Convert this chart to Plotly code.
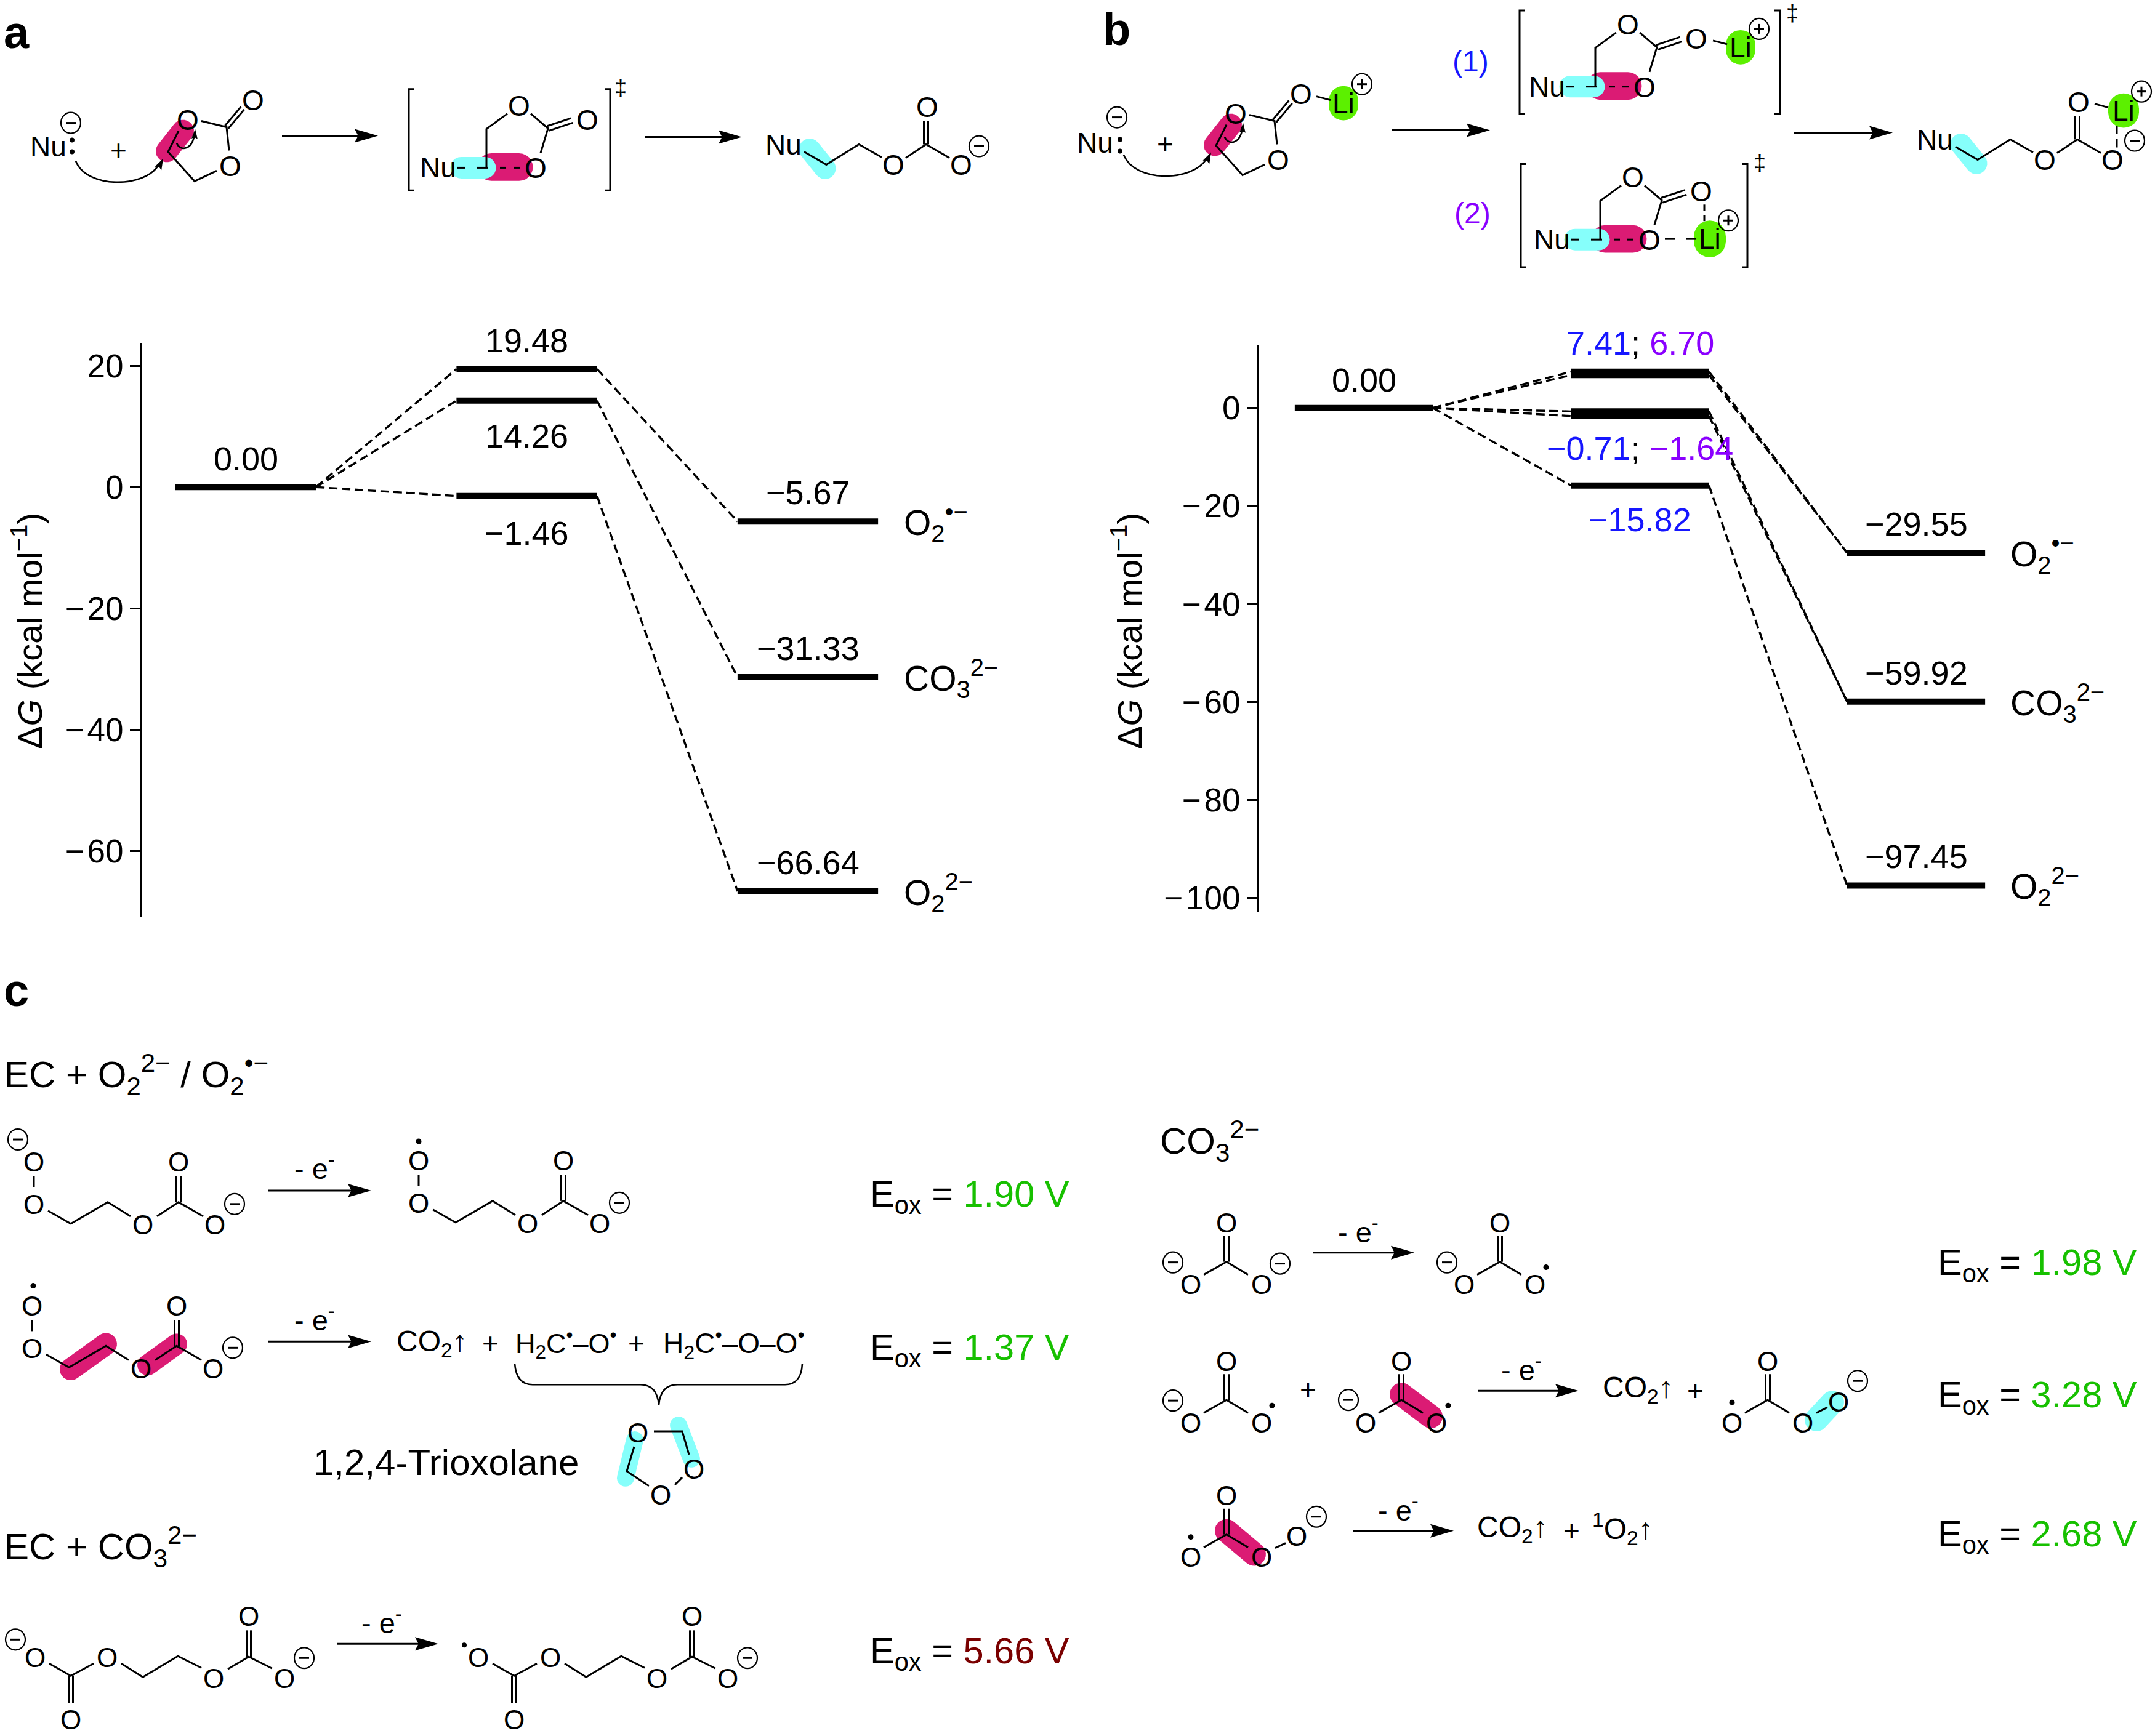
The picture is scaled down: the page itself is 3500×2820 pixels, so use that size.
import math
import plotly.graph_objects as go

W, H = 3500, 2820
FONT = "Liberation Sans"
CRIMSON = "#DB1B74"
CYAN = "#86FFFB"
LIME = "#5CF000"
BLUE = "#1616FF"
PURPLE = "#8A00FF"
GREEN = "#17C000"
DARKRED = "#7A0000"

# ---------- energy data ----------
a_start = 0.00
a_ts = [19.48, 14.26, -1.46]
a_prod = [-5.67, -31.33, -66.64]
a_ticks = [20, 0, -20, -40, -60]
b_start = 0.00
b_ts1 = [7.41, -0.71, -15.82]
b_ts2 = [6.70, -1.64, None]
b_prod = [-29.55, -59.92, -97.45]
b_ticks = [0, -20, -40, -60, -80, -100]
species = ["O<sub>2</sub><sup>•−</sup>", "CO<sub>3</sub><sup>2−</sup>", "O<sub>2</sub><sup>2−</sup>"]
eox_left = ["1.90 V", "1.37 V", "5.66 V"]
eox_right = ["1.98 V", "3.28 V", "2.68 V"]

fig = go.Figure()
shapes_below, shapes_above, annos = [], [], []
bx, by = [], []          # bond segments


def seg(*pts):
    for p in pts:
        bx.append(p[0]); by.append(p[1])
    bx.append(None); by.append(None)


def txt(x, y, s, size=46, color="black", anchor="center", shift=0):
    annos.append(dict(x=x, y=y, xref="x3", yref="y3",
                      text=s, showarrow=False, xanchor=anchor, yanchor="middle",
                      font=dict(family=FONT, size=size, color=color), borderpad=0, yshift=shift))


def capsule(x1, y1, x2, y2, w, color):
    a = math.atan2(y2 - y1, x2 - x1)
    r = w / 2
    pts = []
    for i in range(13):
        t = a + math.pi / 2 + math.pi * i / 12
        pts.append((x1 + r * math.cos(t), y1 + r * math.sin(t)))
    for i in range(13):
        t = a - math.pi / 2 + math.pi * i / 12
        pts.append((x2 + r * math.cos(t), y2 + r * math.sin(t)))
    path = "M" + " L".join(f"{p[0]:.1f} {p[1]:.1f}" for p in pts) + " Z"
    shapes_below.append(dict(type="path", path=path, xref="x3", yref="y3", fillcolor=color, line=dict(width=0), layer="below"))


def head(x, y, ang, L=38, hw=11):
    ca, sa = math.cos(ang), math.sin(ang)
    bxx, byy = x - L * ca, y - L * sa
    nx, ny = x - L * 0.85 * ca, y - L * 0.85 * sa
    path = (f"M{x:.1f} {y:.1f} L{bxx - hw * sa:.1f} {byy + hw * ca:.1f} L{nx:.1f} {ny:.1f} "
            f"L{bxx + hw * sa:.1f} {byy - hw * ca:.1f} Z")
    shapes_above.append(dict(type="path", path=path, xref="x3", yref="y3", fillcolor="black", line=dict(width=0)))


def arrow(x1, x2, y):
    seg((x1, y), (x2 - 30, y))
    head(x2, y, 0)


def curve(path, width=2.6):
    shapes_above.append(dict(type="path", path=path, xref="x3", yref="y3", line=dict(color="black", width=width)))


def dot(x, y, r=4.5):
    shapes_above.append(dict(type="circle", xref="x3", yref="y3", x0=x - r, x1=x + r, y0=y - r, y1=y + r,
                             fillcolor="black", line=dict(width=0)))


def charge(x, y, sign="-"):
    r = 16
    shapes_above.append(dict(type="circle", xref="x3", yref="y3", x0=x - r, x1=x + r, y0=y - r - 1, y1=y + r + 1,
                             line=dict(color="black", width=2.2)))
    seg((x - 8, y), (x + 8, y))
    if sign == "+":
        seg((x, y - 8), (x, y + 8))


def double(p, q, off=4.5):
    a = math.atan2(q[1] - p[1], q[0] - p[0])
    dx, dy = -off * math.sin(a), off * math.cos(a)
    seg((p[0] + dx, p[1] + dy), (q[0] + dx, q[1] + dy))
    seg((p[0] - dx, p[1] - dy), (q[0] - dx, q[1] - dy))


def O(x, y, size=46):
    txt(x, y, "O", size, shift=-2)


def minus_e(x, y):
    txt(x, y, "- e<sup>-</sup>", 47)


def eox(x, y, val, color):
    txt(x, y + 9, f'E<sub>ox</sub> = <span style="color:{color}">{val}</span>', 59.5, anchor="left")


def bracket(x0, x1, y0, y1, ddx, ddy):
    seg((x0 + 9, y0), (x0, y0), (x0, y1), (x0 + 9, y1))
    seg((x1 - 9, y0), (x1, y0), (x1, y1), (x1 - 9, y1))
    txt(ddx, ddy, "‡", 36)


# ---------- scheme a / b building blocks ----------
def ec(dx, dy):
    capsule(297 + dx, 213 + dy, 271 + dx, 246 + dy, 36, CRIMSON)
    O(305 + dx, 193 + dy)
    O(411 + dx, 161 + dy)
    O(374 + dx, 269 + dy)
    seg((290 + dx, 213 + dy), (273 + dx, 247 + dy), (316 + dx, 295 + dy), (352 + dx, 278 + dy))
    seg((327 + dx, 197 + dy), (368 + dx, 207 + dy), (372 + dx, 245 + dy))
    double((368 + dx, 207 + dy), (394 + dx, 176 + dy), 3.5)
    curve(f"M{123 + dx} {262 + dy} C{140 + dx} {307 + dy} {235 + dx} {307 + dy} {258 + dx} {268 + dy}")
    head(265 + dx, 258 + dy, -1.1, 18, 6)
    curve(f"M{287 + dx} {233 + dy} C{292 + dx} {246 + dy} {312 + dx} {246 + dy} {316 + dx} {218 + dy}")
    head(317 + dx, 210 + dy, -1.5, 16, 5)


def ts(dx, dy):
    capsule(798 + dx, 272 + dy, 843 + dx, 272 + dy, 45, CRIMSON)
    capsule(749 + dx, 273 + dy, 788 + dx, 273 + dy, 35, CYAN)
    txt(711 + dx, 273 + dy, "Nu", 46)
    O(843 + dx, 170 + dy)
    O(954 + dx, 193 + dy)
    O(870 + dx, 272 + dy)
    seg((824 + dx, 185 + dy), (790 + dx, 210 + dy), (790 + dx, 273 + dy))
    seg((862 + dx, 185 + dy), (890 + dx, 209 + dy), (878 + dx, 249 + dy))
    double((890 + dx, 209 + dy), (929 + dx, 196 + dy), 4)
    for xs, ln in ((742, 14), (775, 18), (812, 10), (834, 10)):
        seg((xs + dx, 273 + dy), (xs + ln + dx, 273 + dy))


def product(dx, dy):
    capsule(1315 + dx, 243 + dy, 1340 + dx, 274 + dy, 35, CYAN)
    txt(1272 + dx, 235 + dy, "Nu", 46)
    seg((1306 + dx, 247 + dy), (1342 + dx, 268 + dy), (1395 + dx, 235 + dy), (1432 + dx, 256 + dy))
    seg((1471 + dx, 257 + dy), (1504 + dx, 235 + dy), (1542 + dx, 257 + dy))
    double((1504 + dx, 235 + dy), (1504 + dx, 197 + dy), 3.5)
    O(1451 + dx, 267 + dy)
    O(1561 + dx, 267 + dy)
    O(1506 + dx, 172 + dy)


# ---- a scheme
txt(5, 53, "<b>a</b>", 74, anchor="left")
txt(78, 239, "Nu", 46)
dot(117, 228, 4); dot(117, 247, 4)
charge(115, 200)
txt(192, 245, "+", 46)
ec(0, 0)
arrow(458, 614, 221)
bracket(664, 991, 145, 310, 1008, 143)
ts(0, 0)
arrow(1048, 1205, 223)
product(0, 0)
charge(1590, 238)

# ---- b scheme
txt(1790, 48, "<b>b</b>", 74, anchor="left")
txt(1778, 232, "Nu", 46)
dot(1819, 227, 4); dot(1819, 246, 4)
charge(1814, 191)
txt(1892, 234, "+", 46)
ec(1702, -10)
capsule(2182, 164, 2182, 172, 48, LIME)
txt(2182, 168, "Li", 46)
charge(2212, 137, "+")
seg((2138, 157), (2161, 163))
arrow(2260, 2420, 212)
txt(2388, 100, "(1)", 48, BLUE)
txt(2391, 347, "(2)", 48, PURPLE)
bracket(2468, 2891, 17, 186, 2911, 22)
ts(1801, -132)
capsule(2827, 73, 2827, 81, 48, LIME)
txt(2827, 77, "Li", 46)
charge(2857, 47, "+")
seg((2782, 66), (2805, 72))
bracket(2470, 2838, 267, 435, 2858, 265)
ts(1809, 117)
capsule(2777, 385, 2777, 393, 52, LIME)
txt(2777, 389, "Li", 46)
charge(2807, 359, "+")
seg((2768, 333), (2768, 343)); seg((2768, 350), (2768, 360))
seg((2704, 389), (2720, 389)); seg((2738, 389), (2754, 389))
arrow(2913, 3074, 216)
product(1870, -8)
capsule(3449, 177, 3449, 183, 50, LIME)
txt(3449, 180, "Li", 46)
charge(3478, 149, "+")
seg((3402, 169), (3424, 175))
seg((3438, 205), (3438, 218)); seg((3438, 226), (3438, 240))
charge(3467, 229)


# ---------- panel c ----------
txt(5, 1612, "<b>c</b>", 74, anchor="left")
txt(6, 1749, "EC + O<sub>2</sub><sup>2−</sup> / O<sub>2</sub><sup>•−</sup>", 60, anchor="left")
txt(6, 2518, "EC + CO<sub>3</sub><sup>2−</sup>", 60, anchor="left")
txt(1883, 1857, "CO<sub>3</sub><sup>2−</sup>", 60, anchor="left")


def perox(dx, dy):
    O(55 + dx, 1890 + dy, 44); O(55 + dx, 1959 + dy, 44); O(232 + dx, 1992 + dy, 44)
    O(349 + dx, 1992 + dy, 44); O(290 + dx, 1890 + dy, 44)
    seg((55 + dx, 1915 + dy), (55 + dx, 1933 + dy))
    seg((78 + dx, 1971 + dy), (115 + dx, 1992 + dy), (175 + dx, 1957 + dy), (212 + dx, 1980 + dy))
    seg((255 + dx, 1980 + dy), (290 + dx, 1957 + dy), (330 + dx, 1980 + dy))
    double((290 + dx, 1957 + dy), (290 + dx, 1915 + dy), 3.5)


perox(0, 0)
charge(29, 1855); charge(381, 1960)
arrow(436, 603, 1938)
minus_e(511, 1899)
perox(625, -2)
dot(680, 1858); charge(1006, 1958)
eox(1412, 1939, eox_left[0], GREEN)

capsule(115, 2229, 172, 2188, 36, CRIMSON)
capsule(287, 2188, 240, 2222, 34, CRIMSON)
perox(-3, 234)
dot(54, 2093); charge(378, 2194)
arrow(436, 603, 2184)
minus_e(511, 2146)
txt(643, 2187, "CO<sub>2</sub>↑", 48, anchor="left")
txt(796, 2187, "+", 46)
txt(836, 2187, "H<sub>2</sub>C<sup>•</sup>–O<sup>•</sup>", 45, anchor="left")
txt(1033, 2187, "+", 46)
txt(1076, 2187, "H<sub>2</sub>C<sup>•</sup>–O–O<sup>•</sup>", 46, anchor="left")
curve("M836 2220 C838 2245 850 2254 865 2254 L1040 2254 C1058 2254 1068 2265 1070 2287 "
      "C1072 2265 1082 2254 1100 2254 L1275 2254 C1290 2254 1302 2245 1303 2220")
eox(1412, 2188, eox_left[1], GREEN)
txt(508, 2381, "1,2,4-Trioxolane", 60, anchor="left")
capsule(1102, 2320, 1123, 2375, 28, CYAN)
capsule(1031, 2344, 1016, 2406, 28, CYAN)
O(1036, 2330, 44); O(1127, 2390, 44); O(1073, 2432, 44)
seg((1062, 2330), (1108, 2330), (1119, 2368))
seg((1108, 2405), (1096, 2417))
seg((1054, 2419), (1018, 2395), (1030, 2355))


def dicarb(dx):
    for p in [(57, 2696), (174, 2696), (347, 2730), (462, 2730), (404, 2629), (115, 2797)]:
        O(p[0] + dx, p[1], 44)
    seg((80 + dx, 2708), (115 + dx, 2728), (152 + dx, 2708))
    seg((197 + dx, 2708), (232 + dx, 2730), (289 + dx, 2696), (327 + dx, 2715))
    seg((370 + dx, 2717), (404 + dx, 2697), (442 + dx, 2716))
    double((404 + dx, 2697), (404 + dx, 2654), 3.5)
    double((115 + dx, 2728), (115 + dx, 2772), 3.5)


dicarb(0)
charge(25, 2669); charge(494, 2699)
arrow(548, 712, 2676)
minus_e(620, 2639)
dicarb(720)
dot(754, 2678, 4); charge(1214, 2699)
eox(1412, 2682, eox_left[2], DARKRED)


def carbonate(dx, dy):
    O(1992 + dx, 1989 + dy, 44); O(1934 + dx, 2089 + dy, 44); O(2049 + dx, 2089 + dy, 44)
    seg((1955 + dx, 2075 + dy), (1992 + dx, 2054 + dy), (2027 + dx, 2075 + dy))
    double((1992 + dx, 2054 + dy), (1992 + dx, 2012 + dy), 3.5)


carbonate(0, 0)
charge(1905, 2055); charge(2079, 2057)
arrow(2132, 2297, 2039)
minus_e(2206, 2002)
carbonate(444, 0)
charge(2350, 2055); dot(2511, 2063)
eox(3146, 2050, eox_right[0], GREEN)

carbonate(0, 225)
charge(1905, 2280); dot(2066, 2288)
txt(2124, 2262, "+", 46)
capsule(2276, 2270, 2324, 2306, 38, CRIMSON)
carbonate(284, 225)
charge(2190, 2279); dot(2352, 2288)
arrow(2400, 2564, 2264)
minus_e(2471, 2227)
txt(2602, 2262, "CO<sub>2</sub>↑", 48, anchor="left")
txt(2753, 2264, "+", 46)
capsule(2950, 2311, 2976, 2283, 38, CYAN)
carbonate(879, 225)
O(2986, 2280, 44)
seg((2950, 2300), (2968, 2291))
dot(2813, 2283); charge(3017, 2248)
eox(3146, 2265, eox_right[1], GREEN)

capsule(1992, 2492, 2037, 2530, 38, CRIMSON)
carbonate(0, 444)
O(2106, 2499, 44)
seg((2071, 2520), (2088, 2512))
dot(1934, 2502); charge(2138, 2469)
arrow(2197, 2361, 2492)
minus_e(2271, 2455)
txt(2398, 2489, "CO<sub>2</sub>↑", 48, anchor="left")
txt(2552, 2491, "+", 46)
txt(2585, 2489, "<sup>1</sup>O<sub>2</sub>↑", 48, anchor="left")
eox(3146, 2492, eox_right[2], GREEN)

fig.add_trace(go.Scatter(x=bx, y=by, xaxis="x3", yaxis="y3", mode="lines", hoverinfo="skip",
                         line=dict(color="black", width=3), showlegend=False))

# ---------- energy diagrams ----------
HALF = 0.25
BAR_W = 10
DASH = "14px,7px"


def level(ax, ay, step, v, width):
    fig.add_trace(go.Scatter(x=[step - HALF, step + HALF], y=[v, v], xaxis=ax, yaxis=ay, mode="lines",
                             line=dict(color="black", width=width), showlegend=False, hoverinfo="skip"))


def link(ax, ay, s0, v0, s1, v1):
    fig.add_trace(go.Scatter(x=[s0 + HALF, s1 - HALF], y=[v0, v1], xaxis=ax, yaxis=ay, mode="lines",
                             line=dict(color="black", width=3.4, dash=DASH), showlegend=False, hoverinfo="skip"))


for ts_v, pr_v in zip(a_ts, a_prod):
    link("x", "y", 0, a_start, 1, ts_v)
    link("x", "y", 1, ts_v, 2, pr_v)
    level("x", "y", 1, ts_v, BAR_W)
    level("x", "y", 2, pr_v, BAR_W)
level("x", "y", 0, a_start, BAR_W)

for v1, v2, pr_v in zip(b_ts1, b_ts2, b_prod):
    for v in (v1, v2):
        if v is not None:
            link("x2", "y2", 0, b_start, 1, v)
            link("x2", "y2", 1, v, 2, pr_v)
            level("x2", "y2", 1, v, BAR_W)
    level("x2", "y2", 2, pr_v, BAR_W)
level("x2", "y2", 0, b_start, BAR_W)


def lab(ax, ay, x, y, s, shift, size=54, color="black", anchor="center"):
    annos.append(dict(x=x, y=y, xref=ax, yref=ay, text=s, showarrow=False, xanchor=anchor, yanchor="middle",
                      yshift=shift, font=dict(family=FONT, size=size, color=color), borderpad=0))


def fmt(v):
    return f"{v:.2f}".replace("-", "−")


SPECIES_GAP = 0.09
lab("x", "y", 0, a_start, fmt(a_start), 46)
for v, sh in zip(a_ts, [46, -57, -60]):
    lab("x", "y", 1, v, fmt(v), sh)
for v, s in zip(a_prod, species):
    lab("x", "y", 2, v, fmt(v), 47)
    lab("x", "y", 2 + HALF + SPECIES_GAP, v, s, -2, size=57, anchor="left")

lab("x2", "y2", 0, b_start, fmt(b_start), 46)
lab("x2", "y2", 1, b_ts1[0],
    f'<span style="color:{BLUE}">{fmt(b_ts1[0])}</span>; <span style="color:{PURPLE}">{fmt(b_ts2[0])}</span>', 47)
lab("x2", "y2", 1, b_ts1[1],
    f'<span style="color:{BLUE}">{fmt(b_ts1[1])}</span>; <span style="color:{PURPLE}">{fmt(b_ts2[1])}</span>', -60)
lab("x2", "y2", 1, b_ts1[2], fmt(b_ts1[2]), -55, color=BLUE)
for v, s in zip(b_prod, species):
    lab("x2", "y2", 2, v, fmt(v), 47)
    lab("x2", "y2", 2 + HALF + SPECIES_GAP, v, s, -2, size=57, anchor="left")

ylabel = "Δ<i>G</i> (kcal mol<sup>−1</sup>)"
annos.append(dict(x=45, y=1027, xref="x3", yref="y3", text=ylabel, textangle=-90, showarrow=False,
                  font=dict(family=FONT, size=56, color="black")))
annos.append(dict(x=1831, y=1027, xref="x3", yref="y3", text=ylabel, textangle=-90, showarrow=False,
                  font=dict(family=FONT, size=56, color="black")))


def yaxis_cfg(domain, rng, ticks, anchor):
    return dict(domain=domain, range=rng, tickvals=ticks,
                ticktext=[str(t).replace("-", "−\u200a") for t in ticks],
                showline=True, linecolor="black", linewidth=3, ticks="outside", ticklen=17, tickwidth=3,
                tickcolor="black", showgrid=False, zeroline=False, anchor=anchor,
                tickfont=dict(family=FONT, size=53, color="black"))


def px_x(p):
    return p / W


def px_y(p):
    return 1 - p / H


# panel a: step centres 399, 856.5, 1312 px ; panel b: 2215, 2664, 3112 px
xa = dict(domain=[px_x(231), px_x(1700)], range=[(231 - 399) / 456.5, (1700 - 399) / 456.5], visible=False, anchor="y")
xb = dict(domain=[px_x(2045), px_x(3490)], range=[(2045 - 2215) / 448.5, (3490 - 2215) / 448.5], visible=False, anchor="y2")

fig.update_layout(
    width=W, height=H, margin=dict(l=0, r=0, t=0, b=0), paper_bgcolor="white", plot_bgcolor="rgba(0,0,0,0)",
    showlegend=False, font=dict(family=FONT, color="black"),
    xaxis=xa,
    yaxis=yaxis_cfg([px_y(1493), px_y(558)], [-70.9, 23.8], a_ticks, "x"),
    xaxis2=xb,
    yaxis2=yaxis_cfg([px_y(1485), px_y(562)], [-102.9, 12.8], b_ticks, "x2"),
    xaxis3=dict(domain=[0, 1], range=[0, W], visible=False, anchor="y3"),
    yaxis3=dict(domain=[0, 1], range=[H, 0], visible=False, anchor="x3"),
    shapes=shapes_below + shapes_above,
    annotations=annos,
)

fig.write_html("out.html", config={"displayModeBar": False}, post_script="document.body.style.margin='0';")
